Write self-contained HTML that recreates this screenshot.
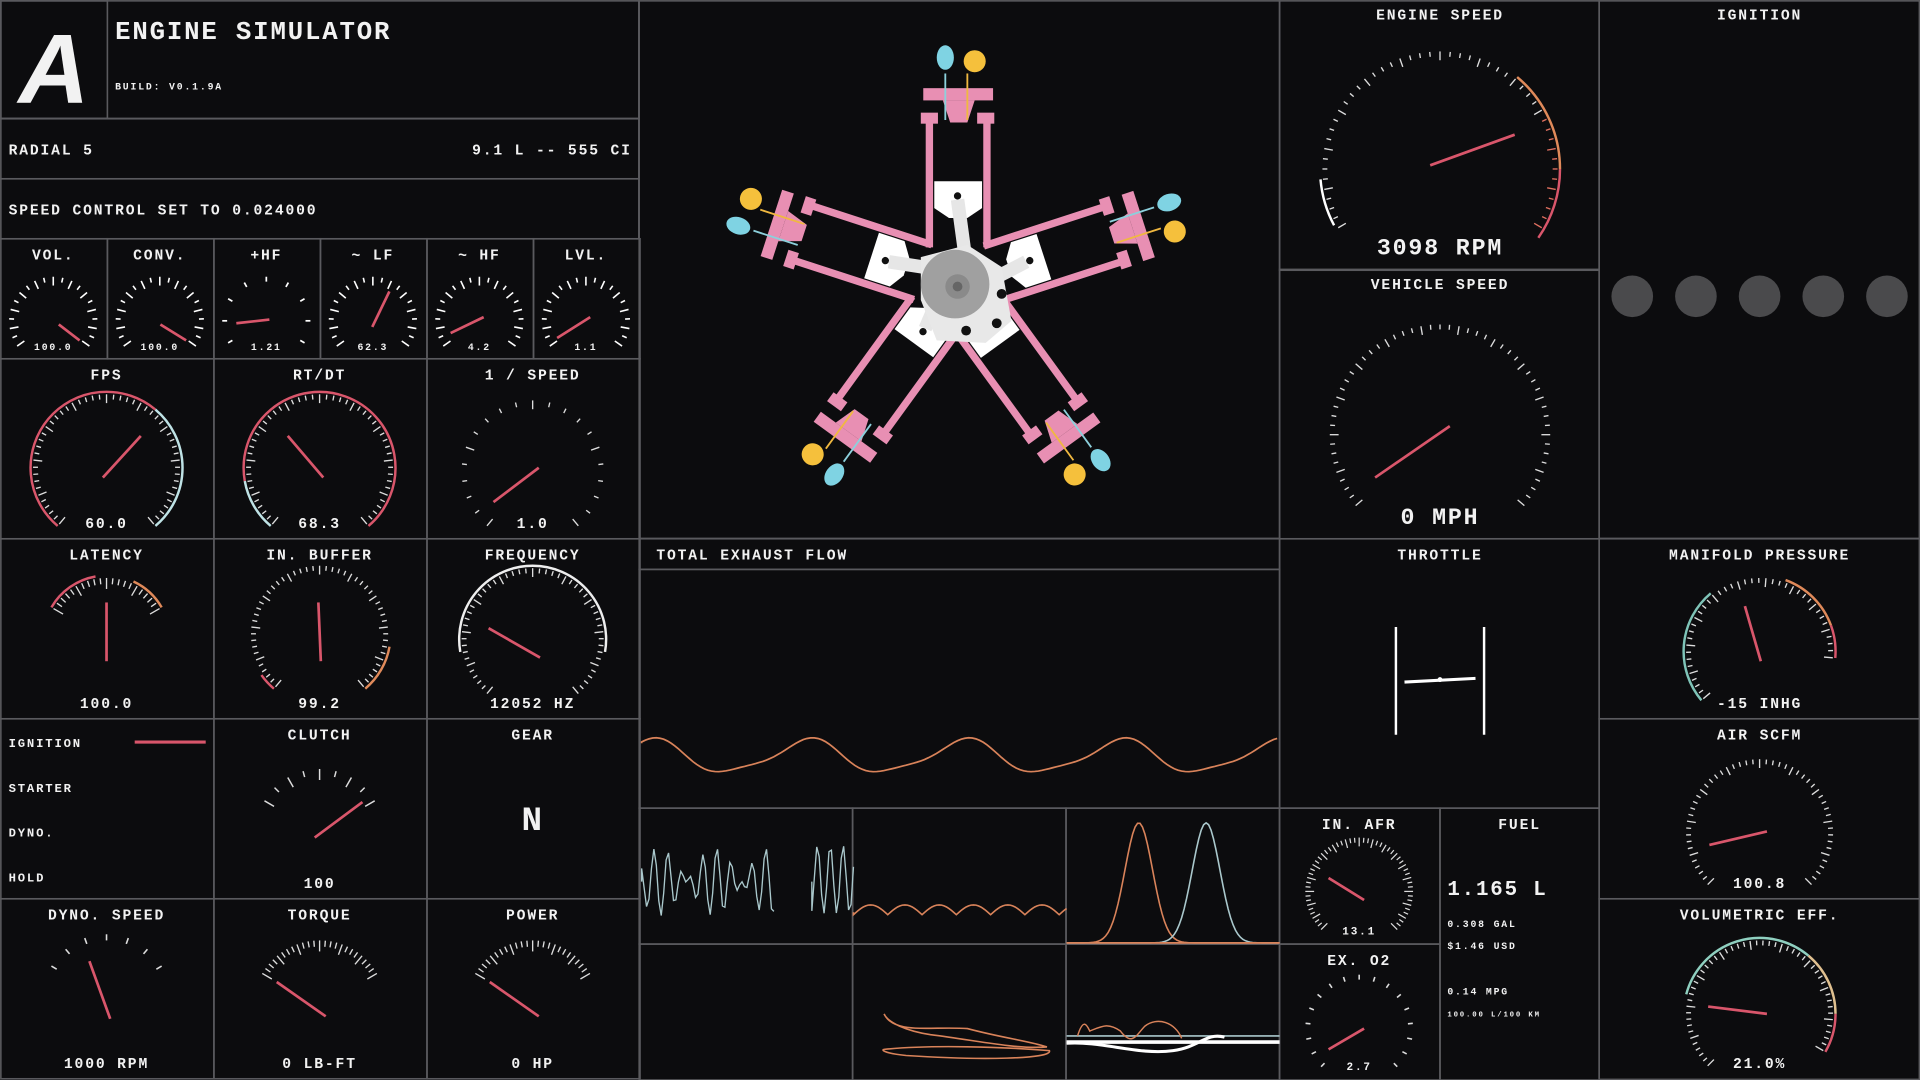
<!DOCTYPE html>
<html><head><meta charset="utf-8">
<style>
html,body{margin:0;padding:0;background:#0c0c0e;overflow:hidden}
svg{display:block}
text{font-family:"Liberation Mono",monospace;font-weight:bold;fill:#f2f2f2;letter-spacing:1.5px}
</style></head><body>
<svg id="s" width="1920" height="1080" viewBox="0 0 1568 882" xmlns="http://www.w3.org/2000/svg">
<rect width="1568" height="882" fill="#0c0c0e"/>
<g id="grid" stroke="#5a5a5e" stroke-width="1.3" fill="none"></g>
<g id="content"></g>
</svg>
<script>
var S='';
function L(x1,y1,x2,y2,c,w){S+='<line x1="'+x1+'" y1="'+y1+'" x2="'+x2+'" y2="'+y2+'" stroke="'+(c||'#fff')+'" stroke-width="'+(w||1.3)+'"/>';}
function T(x,y,t,sz,anc,col){S+='<text x="'+x+'" y="'+y+'" font-size="'+sz+'" text-anchor="'+(anc||'middle')+'"'+(col?' style="fill:'+col+'"':'')+'>'+t+'</text>';}
var G='';
function GR(x,y,w,h){G+='<rect x="'+x+'" y="'+y+'" width="'+w+'" height="'+h+'"/>';}
GR(0.7,0.7,521,96);GR(0.7,0.7,87,96);GR(0.7,97,521,49);GR(0.7,146,521,49);
for(var i=0;i<6;i++)GR(i*87+0.7,195,87,98);
for(var r=0;r<4;r++)for(var c=0;c<3;c++)GR(c*174+0.7,293+r*147,174,147);
GR(522,0.7,523,439);GR(522,440,523,25);GR(522,465,523,195);
for(var c=0;c<3;c++){GR(522+c*174.3,660,174.3,111);GR(522+c*174.3,771,174.3,111);}
GR(1045,0.7,261,220);GR(1045,220,261,220);GR(1045,440,261,220);
GR(1045,660,131,111);GR(1045,771,131,111);GR(1176,660,130,222);
GR(1306,0.7,261.5,439);GR(1306,440,261.5,147);GR(1306,587,261.5,147);GR(1306,734,261.5,147.5);
document.getElementById('grid').innerHTML=G;

function pol(cx,cy,r,a){var t=a*Math.PI/180;return [cx+r*Math.sin(t),cy-r*Math.cos(t)];}
function ticks(cx,cy,r,a0,a1,n,len,col,w,major){
 for(var i=0;i<=n;i++){var a=a0+(a1-a0)*i/n;var l=len*((major&&i%major==0)?1.8:1);
  var p=pol(cx,cy,r,a),q=pol(cx,cy,r-l,a);L(p[0].toFixed(1),p[1].toFixed(1),q[0].toFixed(1),q[1].toFixed(1),(typeof col=='function')?col(a):col,w||1.2);}
}
function arc(cx,cy,r,a0,a1,col,w){var p=pol(cx,cy,r,a0),q=pol(cx,cy,r,a1);var lg=(a1-a0)>180?1:0;
 S+='<path d="M'+p[0].toFixed(1)+' '+p[1].toFixed(1)+' A'+r+' '+r+' 0 '+lg+' 1 '+q[0].toFixed(1)+' '+q[1].toFixed(1)+'" fill="none" stroke="'+col+'" stroke-width="'+(w||2)+'"/>';}
var RED='#d9566b';
S+='<text x="44" y="84" font-size="80" text-anchor="middle" style="font-family:Liberation Sans;font-style:italic;font-weight:bold;letter-spacing:0">A</text>';
T(94,32,'ENGINE SIMULATOR',21,'start');
T(94,73,'BUILD: V0.1.9A',8,'start');
T(7,126,'RADIAL 5',12,'start');
T(516,126,'9.1 L -- 555 CI',12,'end');
T(7,175,'SPEED CONTROL SET TO 0.024000',12,'start');
var sm=[['VOL.','100.0',[65,278]],['CONV.','100.0',[152,278]],['+HF','1.21',[193,264]],['~ LF','62.3',[318,238]],['~ HF','4.2',[368,272]],['LVL.','1.1',[455,276]]];
var smn=[[48,265],[131,265],[220,261],[304,267],[395,259],[482,259]];
for(var i=0;i<6;i++){var cx=i*87+43.5,cy=262;
 T(cx,212,sm[i][0],12);
 if(i==2){ticks(cx,cy,36,-120,120,8,4,'#fff',1.4);} else ticks(cx,cy,36,-125,125,20,4,'#fff',1.3,2);
 L(smn[i][0],smn[i][1],sm[i][2][0],sm[i][2][1],RED,2.2);
 T(cx,286,sm[i][1],8);}
function big(cx,cy,r,title,ty,val,vy,n,needle,arcs,tcol){
 T(cx,ty,title,12);
 ticks(cx,cy,r,-140,140,n,4,tcol||'#ddd',1.1,5);
 if(arcs)arcs.forEach(function(a){arc(cx,cy,r+2,a[0],a[1],a[2],2);});
 L(needle[0],needle[1],needle[2],needle[3],RED,2.2);
 T(cx,vy,val,12);}
big(87,382,60,'FPS',310,'60.0',431,50,[84,390,115,356],[[-140,40,RED],[40,140,'#bfe3e6']]);
big(261,382,60,'RT/DT',310,'68.3',431,50,[264,390,235,356],[[-140,-100,'#bfe3e6'],[-100,140,RED]]);
big(435,385,58,'1 / SPEED',310,'1.0',431,20,[403,410,440,382]);
T(87,457,'LATENCY',12);ticks(87,522,50,-60,60,20,5,'#ddd',1.1,5);arc(87,522,52,-60,-10,RED,2);arc(87,522,52,25,60,'#e08a5a',2);L(87,492,87,540,RED,2.2);T(87,578,'100.0',12);
big(261,518,56,'IN. BUFFER',457,'99.2',578,50,[260,492,262,540],[[-140,-125,RED],[100,140,'#e08a5a']]);
big(435,522,58,'FREQUENCY',457,'12052 HZ',578,50,[399,513,441,537],[[-100,100,'#eee']]);
T(7,610,'IGNITION',10,'start');T(7,647,'STARTER',10,'start');T(7,683,'DYNO.',10,'start');T(7,720,'HOLD',10,'start');
L(110,606,168,606,RED,2.5);
T(261,604,'CLUTCH',12);ticks(261,680,52,-60,60,8,5,'#ddd',1.2,2);L(257,684,296,655,RED,2.2);T(261,725,'100',12);
T(435,604,'GEAR',12);T(435,678,'N',28);
T(87,751,'DYNO. SPEED',12);ticks(87,815,52,-60,60,6,5,'#ddd',1.3);L(73,785,90,832,RED,2.2);T(87,872,'1000 RPM',12);
T(261,751,'TORQUE',12);ticks(261,822,54,-60,60,24,5,'#ddd',1.1,4);L(226,802,266,830,RED,2.2);T(261,872,'0 LB-FT',12);
T(435,751,'POWER',12);ticks(435,822,54,-60,60,24,5,'#ddd',1.1,4);L(400,802,440,830,RED,2.2);T(435,872,'0 HP',12);
T(1176,16,'ENGINE SPEED',12);
ticks(1176,138,96,-120,120,48,4,function(a){return a>60?'#e07060':'#ddd';},1.1,4);
arc(1176,138,98,-118,-95,'#fff',2);arc(1176,138,98,40,90,'#e08a5a',2);arc(1176,138,98,90,125,RED,2);
L(1168,135,1237,110,RED,2.2);T(1176,208,'3098 RPM',19);
T(1176,236,'VEHICLE SPEED',12);
ticks(1176,355,90,-130,130,52,4,'#ddd',1.1,4);L(1123,390,1184,348,RED,2.2);T(1176,428,'0 MPH',19);
T(1437,16,'IGNITION',12);
[1333,1385,1437,1489,1541].forEach(function(x){S+='<circle cx="'+x+'" cy="242" r="17" fill="#4a4a4c"/>';});
T(1176,457,'THROTTLE',12);
L(1140,512,1140,600,'#fff',2);L(1212,512,1212,600,'#fff',2);L(1147,557,1205,554,'#fff',2.5);S+='<circle cx="1176" cy="555" r="2" fill="#fff"/>';
T(1110,677,'IN. AFR',12);ticks(1110,728,44,-135,135,54,4,'#ddd',1,3);L(1085,717,1114,735,RED,2.2);T(1110,763,'13.1',9);
T(1110,788,'EX. O2',12);ticks(1110,840,44,-135,135,16,4,'#ddd',1.3);L(1085,857,1114,840,RED,2.2);T(1110,874,'2.7',9);
T(1241,677,'FUEL',12);T(1182,731,'1.165 L',17,'start');T(1182,757,'0.308 GAL',8,'start');T(1182,775,'$1.46 USD',8,'start');T(1182,812,'0.14 MPG',8,'start');T(1182,830,'100.00 L/100 KM',6,'start');
T(1437,457,'MANIFOLD PRESSURE',12);ticks(1437,532,60,-130,95,40,4,'#ddd',1.1,4);arc(1437,532,62,-130,-40,'#7fc4b8',2);arc(1437,532,62,20,70,'#e08a5a',2);arc(1437,532,62,70,95,RED,2);L(1425,495,1438,540,RED,2.2);T(1437,578,'-15 INHG',12);
T(1437,604,'AIR SCFM',12);ticks(1437,680,60,-135,135,50,4,'#ddd',1.1,5);L(1396,690,1443,679,RED,2.2);T(1437,725,'100.8',12);
T(1437,751,'VOLUMETRIC EFF.',12);ticks(1437,828,60,-135,120,50,4,'#ddd',1.1,5);arc(1437,828,62,-75,40,'#8fd0c0',2);arc(1437,828,62,40,90,'#e0c090',2);arc(1437,828,62,90,120,RED,2);L(1395,822,1443,828,RED,2.2);T(1437,872,'21.0%',12);
T(536,457,'TOTAL EXHAUST FLOW',12,'start');
var d='M524 607';for(var x=524;x<=1045;x+=3){var ph=(x-524)/128*2*Math.PI;var y=618-13*Math.sin(ph+1.2)-3*Math.sin(2*ph);d+=' L'+x+' '+y.toFixed(1);}
S+='<path d="'+d+'" fill="none" stroke="#d9835a" stroke-width="1.4"/>';
d='M524 720';for(var x=524;x<=632;x+=2){var y=720+Math.sin(x*0.55)*28*Math.cos(x*0.07);d+=' L'+x+' '+y.toFixed(1);}
S+='<path d="'+d+'" fill="none" stroke="#aac8cc" stroke-width="1.1"/>';
d='M663 720';for(var x=663;x<=697;x+=2){var y=718+Math.sin(x*0.6)*28;d+=' L'+x+' '+y.toFixed(1);}
S+='<path d="'+d+'" fill="none" stroke="#aac8cc" stroke-width="1.1"/>';
d='M697 745';for(var x=697;x<=871;x+=2){var y=747-8*Math.abs(Math.sin((x-697)*Math.PI/28));d+=' L'+x+' '+y.toFixed(1);}
S+='<path d="'+d+'" fill="none" stroke="#d9835a" stroke-width="1.3"/>';
function bell(c,col){var d='M871 770';for(var x=871;x<=1045;x+=2){var y=770-98*Math.exp(-Math.pow((x-c)/16,2));d+=' L'+x+' '+y.toFixed(1);}S+='<path d="'+d+'" fill="none" stroke="'+col+'" stroke-width="1.3"/>';}
bell(930,'#d9835a');bell(985,'#aac8cc');L(871,770,1045,770,'#d9835a',1.5);
S+='<path d="M722 828 C730 845 760 838 790 840 C820 848 840 850 855 855 C830 857 800 850 760 845 C740 842 725 835 722 828 Z" fill="none" stroke="#d9835a" stroke-width="1.3"/>';
S+='<path d="M722 857 C760 853 820 855 857 858 C860 865 800 866 740 862 C720 860 720 857 722 857 Z" fill="none" stroke="#d9835a" stroke-width="1.3"/>';
L(871,846,1045,846,'#aac8cc',1.3);L(871,851,1045,851,'#fff',3);
S+='<path d="M871 852 C900 850 930 862 958 858 C980 855 985 843 1000 847" fill="none" stroke="#fff" stroke-width="2.5"/>';
S+='<path d="M880 846 C885 830 888 838 890 842 C900 838 905 835 915 842 C925 855 928 845 935 838 C945 830 960 835 965 848" fill="none" stroke="#d9835a" stroke-width="1.2"/>';
var cx=782,cy=232,E='';
function cyl(rot,pist){
 var g='<g transform="rotate('+rot+' '+cx+' '+cy+')">';
 g+='<rect x="756" y="98" width="6" height="104" fill="#e88fb3"/><rect x="803" y="98" width="6" height="104" fill="#e88fb3"/>';
 g+='<rect x="752" y="92" width="14" height="9" fill="#e88fb3"/><rect x="798" y="92" width="14" height="9" fill="#e88fb3"/>';
 g+='<rect x="754" y="72" width="57" height="10" fill="#e88fb3"/><path d="M770 82 L796 82 L790 100 L776 100 Z" fill="#e88fb3"/>';
 g+='<line x1="772" y1="60" x2="772" y2="98" stroke="#8cd0dc" stroke-width="1.5"/><line x1="790" y1="60" x2="790" y2="98" stroke="#f0b840" stroke-width="1.5"/>';
 g+='<ellipse cx="772" cy="47" rx="7" ry="10" fill="#7fd3e3"/><ellipse cx="796" cy="50" rx="9" ry="9" fill="#f5c03c"/>';
 g+='<path d="M763 '+pist+' L802 '+pist+' L802 '+(pist+22)+' L790 '+(pist+30)+' L775 '+(pist+30)+' L763 '+(pist+22)+' Z" fill="#fff"/>';
 g+='<circle cx="782" cy="'+(pist+12)+'" r="3" fill="#111"/>';
 g+='<line x1="782" y1="'+(pist+15)+'" x2="'+(cx+8)+'" y2="'+(cy-10)+'" stroke="#e6e6e6" stroke-width="11"/>';
 return g+'</g>';}
E+=cyl(0,148)+cyl(72,158)+cyl(144,172)+cyl(216,172)+cyl(288,158);
E+='<path d="M752 210 L790 200 L818 218 L826 262 L805 280 L765 278 L752 245 Z" fill="#e8e8e8"/>';
E+='<circle cx="780" cy="232" r="28" fill="#a0a0a0"/><circle cx="782" cy="234" r="10" fill="#8a8a8a"/><circle cx="782" cy="234" r="4" fill="#666"/>';
E+='<circle cx="818" cy="240" r="4" fill="#111"/><circle cx="814" cy="264" r="4" fill="#111"/><circle cx="789" cy="270" r="4" fill="#111"/>';
S+=E;
document.getElementById('content').innerHTML=S;
</script>
</body></html>
